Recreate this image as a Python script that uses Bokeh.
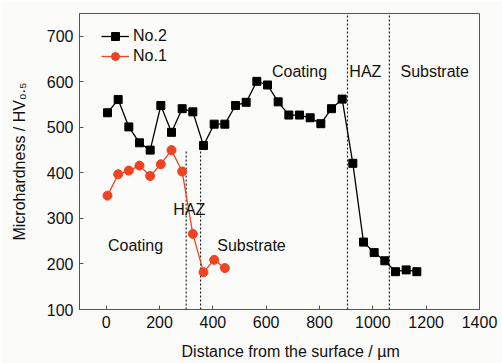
from bokeh.plotting import figure
from bokeh.models import Range1d, FixedTicker, Legend, LegendItem
from bokeh.core.properties import value
from bokeh.embed import file_html
from bokeh.resources import INLINE

# ---- data ----
x_no2 = [5, 45, 85, 125, 165, 205, 245, 285, 325, 365, 405, 445, 485, 525, 565,
         605, 645, 685, 725, 765, 805, 845, 885, 925, 965, 1005, 1045, 1085, 1125, 1165]
y_no2 = [532, 561, 501, 466, 450, 548, 489, 541, 534, 460, 507, 507, 548, 555, 601,
         593, 556, 527, 527, 521, 508, 541, 562, 421, 248, 225, 207, 183, 187, 183]
x_no1 = [5, 45, 85, 125, 165, 205, 245, 285, 325, 365, 405, 445]
y_no1 = [350, 397, 405, 416, 393, 419, 450, 403, 266, 182, 209, 191]

x_ticks = [0, 200, 400, 600, 800, 1000, 1200, 1400]
y_ticks = [100, 200, 300, 400, 500, 600, 700]

no2_bounds = [905, 1062]
no1_bounds = [300, 354]
no1_bound_top = 449

no2_zone_labels = ["Coating", "HAZ", "Substrate"]
no2_zone_x = [725, 972, 1232]
no2_zone_y = [622, 622, 622]
no1_zone_labels = ["Coating", "HAZ", "Substrate"]
no1_zone_x = [110, 312, 545]
no1_zone_y = [241, 320, 241]

FONT = "Liberation Sans"
RED = "#ee4422"

p = figure(width=502, height=363, output_backend="svg", toolbar_location=None,
           x_range=Range1d(-100, 1400), y_range=Range1d(100, 750),
           min_border_left=79, min_border_right=23, min_border_top=13, min_border_bottom=54)
p.background_fill_color = "#fbfbf9"
p.border_fill_color = "#fbfbf9"
p.outline_line_color = "#555555"
p.outline_line_width = 1
p.xgrid.visible = False
p.ygrid.visible = False

for ax in (p.xaxis, p.yaxis):
    ax.major_tick_in = 4
    ax.major_tick_out = 0
    ax.minor_tick_line_color = None
    ax.axis_line_color = "#555555"
    ax.major_tick_line_color = "#555555"
    ax.major_label_text_font = FONT
    ax.major_label_text_font_size = "16px"
    ax.major_label_text_color = "#111111"
    ax.major_label_standoff = 6
    ax.axis_label_text_font = FONT
    ax.axis_label_text_font_size = "16px"
    ax.axis_label_text_font_style = "normal"
    ax.axis_label_text_color = "#111111"
p.xaxis.ticker = FixedTicker(ticks=x_ticks)
p.yaxis.ticker = FixedTicker(ticks=y_ticks)
p.xaxis.axis_label = "\u00a0" * 5 + "Distance from the surface / \u00b5m"
p.yaxis.axis_label = "Microhardness / HV\u2080.\u2085"
p.xaxis.axis_label_standoff = 12
p.yaxis.axis_label_standoff = 16

# boundary lines
for b in no2_bounds:
    p.line([b, b], [100, 750], line_color="#222222", line_width=1.2, line_dash="2 2")
for b in no1_bounds:
    p.line([b, b], [100, no1_bound_top], line_color="#222222", line_width=1.2, line_dash="2 2")

l2 = p.line(x_no2, y_no2, line_color="black", line_width=1.3)
s2 = p.scatter(x_no2, y_no2, marker="square", size=8, fill_color="black", line_color="black")
l1 = p.line(x_no1, y_no1, line_color=RED, line_width=1.3)
s1 = p.scatter(x_no1, y_no1, marker="circle", size=9, fill_color=RED, line_color=RED)

p.text(no2_zone_x, no2_zone_y, text=no2_zone_labels, text_font=value(FONT),
       text_font_size="16px", text_align="center", text_baseline="alphabetic", text_color="#111111")
p.text(no1_zone_x, no1_zone_y, text=no1_zone_labels, text_font=value(FONT),
       text_font_size="16px", text_align="center", text_baseline="alphabetic", text_color="#111111")

legend = Legend(items=[LegendItem(label="No.2", renderers=[l2, s2]),
                       LegendItem(label="No.1", renderers=[l1, s1])],
                location=(22, 243))
legend.background_fill_alpha = 0
legend.border_line_alpha = 0
legend.padding = 0
legend.margin = 0
legend.spacing = 0
legend.label_height = 20
legend.glyph_height = 20
legend.glyph_width = 28
legend.label_standoff = 4
legend.label_text_font = FONT
legend.label_text_font_size = "16px"
legend.label_text_color = "#111111"
p.add_layout(legend, "center")

open("out.html", "w").write(file_html(p, INLINE))
